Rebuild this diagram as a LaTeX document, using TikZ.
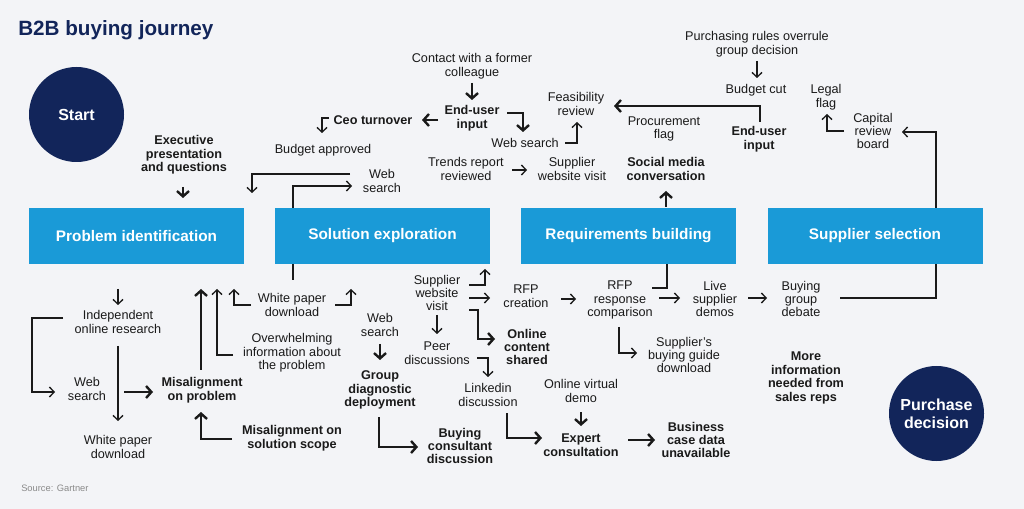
\documentclass[tikz,border=0pt]{standalone}
\usepackage{fontspec}
\setmainfont{Liberation Sans}
\usetikzlibrary{arrows.meta}
\definecolor{bgc}{HTML}{F3F4F7}
\definecolor{navy}{HTML}{12255A}
\definecolor{stageblue}{HTML}{1A9AD7}
\definecolor{ink}{HTML}{1A1A1A}
\definecolor{srcgray}{HTML}{8A8A8A}
\tikzset{
  txt/.style={align=center, inner sep=0pt, text=ink, font=\fontsize{9.5}{10.1}\selectfont},
  btxt/.style={align=center, inner sep=0pt, text=ink, font=\fontsize{9.5}{10.1}\selectfont\bfseries},
  stage/.style={fill=stageblue, text=white, inner sep=0pt, minimum width=161.25pt, minimum height=42pt, font=\fontsize{11.5}{13}\selectfont\bfseries},
  circ/.style={circle, fill=navy, text=white, inner sep=0pt, minimum size=71.25pt, align=center, font=\fontsize{12}{13.5}\selectfont\bfseries},
  tarrow/.style={draw=ink, line width=1pt, -{Straight Barb[length=3.5pt,width=7.5pt]}},
  barrow/.style={draw=ink, line width=1.8pt, -{Straight Barb[length=4pt,width=9pt]}},
  tline/.style={draw=ink, line width=1pt},
  bline/.style={draw=ink, line width=1.8pt},
}
\begin{document}
\begin{tikzpicture}[x=0.75pt, y=-0.75pt]
\fill[bgc] (0,0) rectangle (1024,509);
\useasboundingbox (0,0) rectangle (1024,509);

% title and source
\node[anchor=west, inner sep=0pt, text=navy, font=\fontsize{15.5}{18}\selectfont\bfseries] (title) at (18,30) {B2B buying journey};
\node[anchor=west, inner sep=0pt, text=srcgray, font=\fontsize{7}{8}\selectfont] (source) at (21,488) {Source: Gartner};

% circles
\node[circ] (start) at (76.5,114.5) {Start};
\node[circ] (pd) at (936.5,413.5) {Purchase\\decision};

% stages
\node[stage] (pi) at (136.5,236) {Problem identification};
\node[stage] (se) at (382.5,236) {Solution exploration};
\node[stage] (rb) at (628.5,236) {Requirements building};
\node[stage] (ss) at (875,236) {Supplier selection};

% upper texts
\node[btxt] (exec) at (184,155) {Executive\\presentation\\and questions};
\node[btxt] (ceo) at (373,120) {Ceo turnover};
\node[txt] (budapp) at (323,150) {Budget approved};
\node[txt] (web1) at (382,181) {Web\\search};
\node[txt] (contact) at (472,66) {Contact with a former\\colleague};
\node[btxt] (eui1) at (472,118) {End-user\\input};
\node[txt] (web2) at (525,143) {Web search};
\node[txt] (feas) at (576,104) {Feasibility\\review};
\node[txt] (trends) at (466,169) {Trends report\\reviewed};
\node[txt] (swv1) at (572,169) {Supplier\\website visit};
\node[txt] (proc) at (664,129) {Procurement\\flag};
\node[btxt] (eui2) at (759,139) {End-user\\input};
\node[btxt] (social) at (666,169) {Social media\\conversation};
\node[txt] (rules) at (757,44) {Purchasing rules overrule\\group decision};
\node[txt] (budcut) at (756,90) {Budget cut};
\node[txt] (legal) at (826,97) {Legal\\flag};
\node[txt] (capital) at (873,131) {Capital\\review\\board};

% lower texts
\node[txt] (indep) at (118,322) {Independent\\online research};
\node[txt] (web3) at (87,389) {Web\\search};
\node[txt] (wp1) at (118,447) {White paper\\download};
\node[btxt] (misprob) at (202,390) {Misalignment\\on problem};
\node[txt] (overw) at (292,353) {Overwhelming\\information about\\the problem};
\node[txt] (wp2) at (292,305) {White paper\\download};
\node[btxt] (missol) at (292,438) {Misalignment on\\solution scope};
\node[txt] (web4) at (380,325) {Web\\search};
\node[btxt] (group) at (380,390) {Group\\diagnostic\\deployment};
\node[btxt] (buycons) at (460,446) {Buying\\consultant\\discussion};
\node[txt] (swv2) at (437,293) {Supplier\\website\\visit};
\node[txt] (peer) at (437,353) {Peer\\discussions};
\node[btxt] (online) at (527,347) {Online\\content\\shared};
\node[txt] (linkedin) at (488,395) {Linkedin\\discussion};
\node[txt] (ovd) at (581,391) {Online virtual\\demo};
\node[btxt] (expert) at (581,445) {Expert\\consultation};
\node[btxt] (bcd) at (696,440) {Business\\case data\\unavailable};
\node[txt] (rfpc) at (526,296) {RFP\\creation};
\node[txt] (rfpr) at (620,300) {RFP\\response\\comparison};
\node[txt] (guide) at (684,355) {Supplier’s\\buying guide\\download};
\node[txt] (live) at (715,299) {Live\\supplier\\demos};
\node[txt] (bgd) at (801,299) {Buying\\group\\debate};
\node[btxt] (more) at (806,378) {More\\information\\needed from\\sales reps};

% connector end points
\coordinate (c1a) at (183,187); \coordinate (c1b) at (183,198);
\coordinate (c2a) at (438,120); \coordinate (c2b) at (422,120);
\coordinate (c3a) at (329,118); \coordinate (c3b) at (322,133);
\coordinate (c4a) at (350,174); \coordinate (c4b) at (252,193);
\coordinate (c5a) at (293,208); \coordinate (c5b) at (352,186);
\coordinate (c6a) at (472,83);  \coordinate (c6b) at (472,100);
\coordinate (c7a) at (507,113); \coordinate (c7b) at (523,132);
\coordinate (c8a) at (565,143); \coordinate (c8b) at (577,122);
\coordinate (c9a) at (512,170); \coordinate (c9b) at (527,170);
\coordinate (c10a) at (760,122); \coordinate (c10b) at (614,106);
\coordinate (c11a) at (666,207); \coordinate (c11b) at (666,191);
\coordinate (c12a) at (757,61); \coordinate (c12b) at (757,78);
\coordinate (c13a) at (844,131); \coordinate (c13b) at (827,114);
\coordinate (c14a) at (936,208); \coordinate (c14b) at (902,132);
\coordinate (c15a) at (840,298); \coordinate (c15b) at (936,264);
\coordinate (c16a) at (118,289); \coordinate (c16b) at (118,305);
\coordinate (c17a) at (63,318);  \coordinate (c17b) at (55,392);
\coordinate (c18a) at (118,346); \coordinate (c18b) at (118,421);
\coordinate (c19a) at (124,392); \coordinate (c19b) at (153,392);
\coordinate (c20a) at (201,370); \coordinate (c20b) at (201,289);
\coordinate (c21a) at (233,355); \coordinate (c21b) at (217,289);
\coordinate (c22a) at (251,305); \coordinate (c22b) at (234,289);
\coordinate (c23a) at (293,264); \coordinate (c23b) at (293,280);
\coordinate (c24a) at (335,305); \coordinate (c24b) at (351,289);
\coordinate (c25a) at (232,439); \coordinate (c25b) at (201,412);
\coordinate (c26a) at (380,344); \coordinate (c26b) at (380,360);
\coordinate (c27a) at (379,417); \coordinate (c27b) at (418,447);
\coordinate (c28a) at (469,285); \coordinate (c28b) at (485,269);
\coordinate (c29a) at (469,298); \coordinate (c29b) at (490,298);
\coordinate (c30a) at (469,310); \coordinate (c30b) at (495,339);
\coordinate (c31a) at (437,315); \coordinate (c31b) at (437,334);
\coordinate (c32a) at (477,358); \coordinate (c32b) at (488,377);
\coordinate (c33a) at (507,413); \coordinate (c33b) at (542,438);
\coordinate (c34a) at (581,412); \coordinate (c34b) at (581,426);
\coordinate (c35a) at (628,440); \coordinate (c35b) at (655,440);
\coordinate (c36a) at (561,299); \coordinate (c36b) at (576,299);
\coordinate (c37a) at (652,288); \coordinate (c37b) at (667,264);
\coordinate (c38a) at (659,298); \coordinate (c38b) at (680,298);
\coordinate (c39a) at (619,327); \coordinate (c39b) at (637,353);
\coordinate (c40a) at (748,298); \coordinate (c40b) at (767,298);

% connectors
\draw[barrow] (c1a) -- (c1b);
\draw[barrow] (c2a) -- (c2b);
\draw[tarrow] (c3a) -| (c3b);
\draw[tarrow] (c4a) -| (c4b);
\draw[tarrow] (c5a) |- (c5b);
\draw[barrow] (c6a) -- (c6b);
\draw[barrow] (c7a) -| (c7b);
\draw[tarrow] (c8a) -| (c8b);
\draw[tarrow] (c9a) -- (c9b);
\draw[barrow] (c10a) |- (c10b);
\draw[barrow] (c11a) -- (c11b);
\draw[tarrow] (c12a) -- (c12b);
\draw[tarrow] (c13a) -| (c13b);
\draw[tarrow] (c14a) |- (c14b);
\draw[tline] (c15a) -| (c15b);
\draw[tarrow] (c16a) -- (c16b);
\draw[tarrow] (c17a) -- (32,318) -- (32,392) -- (c17b);
\draw[tarrow] (c18a) -- (c18b);
\draw[barrow] (c19a) -- (c19b);
\draw[barrow] (c20a) -- (c20b);
\draw[tarrow] (c21a) -| (c21b);
\draw[tarrow] (c22a) -| (c22b);
\draw[tline] (c23a) -- (c23b);
\draw[tarrow] (c24a) -| (c24b);
\draw[barrow] (c25a) -| (c25b);
\draw[barrow] (c26a) -- (c26b);
\draw[barrow] (c27a) |- (c27b);
\draw[tarrow] (c28a) -| (c28b);
\draw[tarrow] (c29a) -- (c29b);
\draw[barrow] (c30a) -- (478,310) |- (c30b);
\draw[tarrow] (c31a) -- (c31b);
\draw[tarrow] (c32a) -| (c32b);
\draw[barrow] (c33a) |- (c33b);
\draw[barrow] (c34a) -- (c34b);
\draw[barrow] (c35a) -- (c35b);
\draw[tarrow] (c36a) -- (c36b);
\draw[bline] (c37a) -| (c37b);
\draw[tarrow] (c38a) -- (c38b);
\draw[tarrow] (c39a) |- (c39b);
\draw[tarrow] (c40a) -- (c40b);
\end{tikzpicture}
\end{document}
